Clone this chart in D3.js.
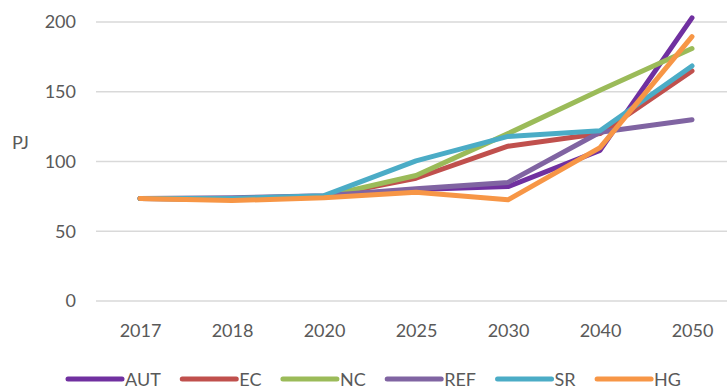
<!DOCTYPE html>
<html><head><meta charset="utf-8">
<script src="https://cdn.jsdelivr.net/npm/d3@7"></script>
<style>body{margin:0;background:#fff;}svg{display:block;font-family:Lato,"Open Sans",sans-serif;}</style>
</head><body>
<svg id="c" width="727" height="389"></svg>
<script>
const categories = ["2017","2018","2020","2025","2030","2040","2050"];
const seriesNames = ["AUT","EC","NC","REF","SR","HG"];
const seriesColors = ["#7030A0","#C0504D","#9BBB59","#8064A2","#4BACC6","#F79646"];
const AUT = [73.5, 73, 75, 80, 82, 108, 203];
const EC  = [73.5, 73, 75, 88, 111, 120, 165];
const NC  = [73.5, 73, 75, 90, 120, 151, 181];
const REF = [73.5, 74, 75.5, 80.5, 85, 121, 130];
const SR  = [73.5, 73.5, 75.5, 100.5, 118, 122, 168.5];
const HG  = [73.5, 72, 74, 78, 72.5, 110, 189.5];
const yTicks = [0, 50, 100, 150, 200];
const yLabel = "PJ";
const seriesValues = [AUT, EC, NC, REF, SR, HG];

const FONT = "Lato,'Open Sans',sans-serif";
const FS = 18;
const svg = d3.select("#c");
const x = d3.scalePoint().domain(categories).range([140, 692]);
const y = d3.scaleLinear().domain([0, 200]).range([301, 22]);

// gridlines
svg.append("g").selectAll("line").data(yTicks).join("line")
  .attr("x1", 96).attr("x2", 727)
  .attr("y1", d => y(d)).attr("y2", d => y(d))
  .attr("stroke", "#d9d9d9").attr("stroke-width", 1.5);

// y axis labels
const yAxis = svg.append("g").attr("transform", "translate(76,0)")
  .call(d3.axisLeft(y).tickValues(yTicks).tickSize(0).tickPadding(0));
yAxis.select(".domain").remove();
yAxis.selectAll("text").attr("font-size", FS).attr("fill", "#595959").attr("font-family", FONT);

svg.append("text").attr("x", 12).attr("y", 149).attr("font-size", FS).attr("fill", "#595959")
  .attr("font-family", FONT).text(yLabel);

// x axis labels
const xAxis = svg.append("g")
  .call(d3.axisBottom(x).tickSize(0).tickPadding(0));
xAxis.select(".domain").remove();
xAxis.selectAll("text").attr("y", 337).attr("dy", null).attr("font-size", FS).attr("fill", "#595959").attr("font-family", FONT);

// lines
const line = d3.line().x((d, i) => x(categories[i])).y(d => y(d));
svg.append("g").selectAll("path").data(seriesValues).join("path")
  .attr("d", d => line(d))
  .attr("fill", "none")
  .attr("stroke", (d, i) => seriesColors[i])
  .attr("stroke-width", 5)
  .attr("stroke-linejoin", "round")
  .attr("stroke-linecap", "round");

// legend
const lg = svg.append("g");
let lx = 68;
const ly = 379;
seriesNames.forEach((name, i) => {
  lg.append("line").attr("x1", lx).attr("x2", lx + 54).attr("y1", ly).attr("y2", ly)
    .attr("stroke", seriesColors[i]).attr("stroke-width", 5).attr("stroke-linecap", "round");
  const t = lg.append("text").attr("x", lx + 57).attr("y", ly + 7).attr("font-size", FS)
    .attr("font-family", FONT).attr("fill", "#595959").text(name);
  const w = t.node().getComputedTextLength();
  lx = lx + 57 + w + 21.5;
});
</script>
</body></html>
